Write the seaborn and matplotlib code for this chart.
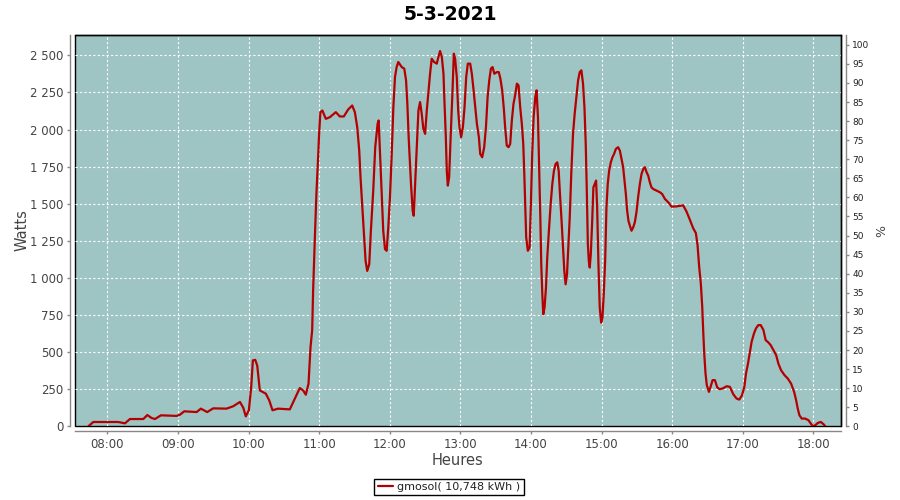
import numpy as np
import pandas as pd
import matplotlib
matplotlib.use("Agg")
import matplotlib.pyplot as plt
import seaborn as sns

# ---------------- data ----------------
title = "5-3-2021"
series_name = "gmosol( 10,748 kWh )"
x_label = "Heures"
y_label = "Watts"
y2_label = "%"

hour_ticks = ["08:00", "09:00", "10:00", "11:00", "12:00", "13:00",
              "14:00", "15:00", "16:00", "17:00", "18:00"]
watt_ticks = [0, 250, 500, 750, 1000, 1250, 1500, 1750, 2000, 2250, 2500]
pct_ticks = list(range(0, 101, 5))

# time of each sample, in minutes after midnight
minutes = [
    463.9, 468.1, 476.6, 489.3, 495.0, 499.2, 510.6, 514.0, 517.6, 520.5,
    525.6, 538.9, 541.7, 545.4, 555.9, 559.5, 564.9, 570.0, 581.3, 587.0,
    592.7, 595.5, 597.7, 600.3, 602.3, 603.7, 605.7, 607.4, 609.6, 614.7,
    617.6, 620.4, 625.2, 635.1, 639.4, 643.6, 646.4, 648.7, 651.0, 652.7,
    654.1, 654.9, 656.3, 657.7, 659.1, 660.0, 661.1, 662.8, 665.7, 669.1,
    674.2, 677.6, 681.0, 684.7, 688.1, 690.4, 692.4, 694.1, 695.2, 696.6,
    698.1, 699.5, 700.9, 702.6, 704.0, 706.0, 707.7, 709.7, 710.6, 711.7,
    713.1, 714.5, 716.0, 717.4, 718.8, 720.2, 721.6, 723.1, 724.5, 725.9,
    727.3, 730.2, 732.4, 733.9, 735.0, 736.1, 738.1, 739.5, 740.4, 741.5,
    743.0, 744.4, 745.8, 747.2, 748.6, 750.1, 751.5, 752.9, 754.3, 755.7,
    757.7, 760.0, 761.4, 762.8, 764.3, 765.7, 766.5, 767.7, 768.5, 769.4,
    770.5, 771.9, 773.4, 774.5, 775.6, 777.0, 778.2, 779.3, 780.7, 782.2,
    783.6, 785.0, 786.4, 788.4, 789.8, 791.3, 792.7, 794.1, 795.8, 796.9,
    798.6, 800.3, 801.8, 803.2, 804.6, 806.0, 807.4, 808.9, 811.1, 812.7,
    814.1, 815.6, 817.0, 818.1, 819.5, 821.0, 822.4, 823.8, 825.2, 826.6,
    828.1, 829.5, 830.9, 832.3, 833.5, 834.3, 835.2, 836.0, 837.4, 838.9,
    840.0, 841.1, 842.3, 843.7, 844.8, 846.0, 847.1, 848.0, 848.8, 849.7,
    850.5, 851.6, 852.8, 853.9, 855.3, 856.8, 858.2, 859.6, 861.0, 862.4,
    863.6, 864.7, 865.9, 867.0, 868.4, 869.5, 870.7, 871.8, 873.0, 874.4,
    875.8, 877.2, 878.6, 880.1, 881.5, 882.9, 884.3, 885.5, 886.6, 887.5,
    888.4, 889.2, 890.0, 890.9, 892.0, 893.1, 894.3, 895.4, 896.3, 897.4,
    898.5, 899.7, 900.8, 901.9, 903.1, 904.2, 905.3, 906.5, 907.9, 909.3,
    910.7, 912.2, 914.1, 915.6, 917.0, 918.4, 919.5, 920.7, 921.8, 922.9,
    924.1, 925.5, 926.9, 928.3, 929.7, 931.1, 932.6, 934.0, 935.5, 936.9,
    938.3, 939.7, 941.1, 942.5, 944.0, 946.8, 949.7, 951.6, 953.9, 956.8,
    959.6, 963.7, 969.4, 972.2, 975.1, 977.9, 980.2, 981.6, 983.0, 984.4,
    985.6, 986.4, 987.3, 988.4, 989.5, 991.3, 992.7, 994.4, 996.4, 998.4,
    1000.6, 1003.5, 1006.3, 1009.1, 1012.0, 1014.8, 1017.1, 1019.4, 1021.4, 1022.8,
    1024.5, 1026.2, 1027.6, 1029.6, 1031.3, 1033.3, 1035.3, 1037.6, 1039.5, 1041.8,
    1043.8, 1046.1, 1048.4, 1050.3, 1052.6, 1055.5, 1058.3, 1061.1, 1063.7, 1065.4,
    1066.8, 1068.2, 1070.2, 1073.1, 1075.9, 1077.9, 1079.3, 1081.6, 1083.9, 1086.4,
    1088.7, 1090.1,
]

watts = [
    0, 29, 29, 29, 20, 49, 49, 76, 56, 49,
    74, 70, 78, 101, 96, 119, 96, 121, 119, 135,
    164, 126, 67, 108, 265, 444, 448, 410, 242, 220,
    175, 108, 119, 114, 186, 258, 242, 213, 287, 534,
    646, 912, 1250, 1565, 1802, 1971, 2117, 2128, 2072, 2083,
    2117, 2088, 2088, 2135, 2162, 2117, 2016, 1858, 1678, 1498,
    1295, 1115, 1047, 1092, 1318, 1588, 1881, 2038, 2061, 1858,
    1588, 1318, 1194, 1183, 1340, 1543, 1813, 2151, 2354, 2421,
    2455, 2421, 2410, 2331, 2173, 1948, 1633, 1453, 1419, 1610,
    1858, 2128, 2185, 2106, 2005, 1971, 2128, 2252, 2376, 2477,
    2455, 2444, 2489, 2529, 2489, 2376, 2196, 1948, 1723, 1622,
    1678, 1971, 2264, 2511, 2477, 2354, 2128, 2016, 1948, 2016,
    2151, 2354, 2444, 2444, 2376, 2264, 2151, 2038, 1948, 1836,
    1813, 1881, 2016, 2218, 2331, 2410, 2421, 2376, 2387, 2387,
    2342, 2264, 2140, 2016, 1892, 1881, 1903, 2061, 2173, 2230,
    2309, 2297, 2151, 2038, 1903, 1723, 1475, 1273, 1183, 1205,
    1498, 1836, 2083, 2218, 2264, 2083, 1723, 1408, 1093, 890,
    755, 800, 935, 1138, 1318, 1498, 1633, 1723, 1768, 1779,
    1723, 1565, 1408, 1250, 1047, 957, 1025, 1205, 1408, 1723,
    1971, 2106, 2218, 2331, 2387, 2399, 2309, 2151, 1903, 1588,
    1228, 1115, 1070, 1160, 1363, 1610, 1633, 1656, 1475, 1093,
    800, 699, 732, 890, 1115, 1475, 1633, 1723, 1779, 1813,
    1836, 1869, 1881, 1858, 1802, 1746, 1656, 1565, 1453, 1385,
    1352, 1318, 1340, 1374, 1442, 1543, 1633, 1700, 1734, 1746,
    1712, 1689, 1644, 1610, 1599, 1588, 1577, 1565, 1532, 1509,
    1480, 1482, 1489, 1448, 1392, 1335, 1302, 1223, 1076, 964,
    806, 649, 491, 356, 277, 232, 266, 311, 311, 261,
    250, 257, 270, 266, 216, 187, 180, 209, 266, 356,
    423, 502, 570, 626, 660, 682, 682, 649, 581, 565,
    547, 513, 480, 423, 378, 345, 322, 288, 232, 176,
    119, 74, 52, 52, 41, 18, 2, 7, 23, 29,
    14, 0,
]

# ---------------- styling ----------------
sns.set_theme(style="white")
plt.rcParams["font.family"] = ["DejaVu Sans"]

BG = "#9fc4c4"
LINE = "#b40000"
GREY_AX = "#888888"
TXT = "#444444"

fig = plt.figure(figsize=(9, 5), dpi=100)
fig.patch.set_facecolor("white")
ax = fig.add_axes([0.0837, 0.1474, 0.8504, 0.782])
ax.set_facecolor(BG)

df = pd.DataFrame({"heure": np.array(minutes) / 60.0, "watts": watts})
sns.lineplot(data=df, x="heure", y="watts", estimator=None, sort=False,
             color=LINE, linewidth=1.6, ax=ax, legend=False)

def hhmm_to_hours(s):
    h, m = s.split(":")
    return int(h) + int(m) / 60.0

xt = [hhmm_to_hours(s) for s in hour_ticks]
ax.set_xticks(xt)
ax.set_xticklabels(hour_ticks)
ax.set_xlim(7.547, 18.388)

ax.set_yticks(watt_ticks)
ax.set_yticklabels([f"{v:,}".replace(",", " ") for v in watt_ticks])
ax.set_ylim(0, 2635)

ax.grid(True, color="white", linestyle=(0, (2, 2)), linewidth=0.8)
ax.set_axisbelow(True)

# frame
ax.patch.set_edgecolor("black")
ax.patch.set_linewidth(1.0)
for s in ["top", "right"]:
    ax.spines[s].set_color("black")
    ax.spines[s].set_linewidth(1.0)
for s in ["left", "bottom"]:
    ax.spines[s].set_position(("outward", 3.5))
    ax.spines[s].set_color(GREY_AX)
    ax.spines[s].set_linewidth(1.0)

ax.tick_params(axis="y", which="both", direction="out", length=2, width=1,
               color=GREY_AX, labelcolor=TXT, labelsize=8.5, pad=3.2, left=True)
ax.tick_params(axis="x", which="both", direction="out", length=2, width=1,
               color=GREY_AX, labelcolor=TXT, labelsize=8.5, pad=3.0, bottom=True)

ax.set_xlabel(x_label, fontsize=10.5, color=TXT)
ax.set_ylabel(y_label, fontsize=10.5, color=TXT)
ax.xaxis.set_label_coords(0.499, -0.068)
ax.yaxis.set_label_coords(-0.0605, 0.502)

# right axis (%)
ax2 = ax.twinx()
ax2.set_ylim(0, 102.5)
ax2.set_yticks(pct_ticks)
ax2.set_yticklabels([str(v) for v in pct_ticks])
ax2.grid(False)
for s in ["top", "left", "bottom"]:
    ax2.spines[s].set_visible(False)
ax2.spines["right"].set_position(("outward", 3.5))
ax2.spines["right"].set_color(GREY_AX)
ax2.spines["right"].set_linewidth(1.0)
ax2.tick_params(axis="y", direction="out", length=2, width=1, color=GREY_AX,
                labelcolor="#222222", labelsize=6.5, pad=2.8, right=True)
ax2.set_ylabel(y2_label, fontsize=9, color=TXT)

# title
fig.text(0.5, 1 - 14 / 500, title, ha="center", va="center",
         fontsize=13.5, fontweight="bold", color="black")

# legend
handle = plt.Line2D([], [], color=LINE, linewidth=1.6)
leg = fig.legend([handle], [series_name], loc="center",
                 bbox_to_anchor=(449 / 900, 1 - 487 / 500),
                 frameon=True, fancybox=False, edgecolor="black",
                 fontsize=8, handlelength=1.4, handletextpad=0.35,
                 borderpad=0.3, framealpha=1)
leg.get_frame().set_linewidth(1.0)
for t in leg.get_texts():
    t.set_color("#222222")

fig.savefig("out.png", dpi=100, facecolor="white")
